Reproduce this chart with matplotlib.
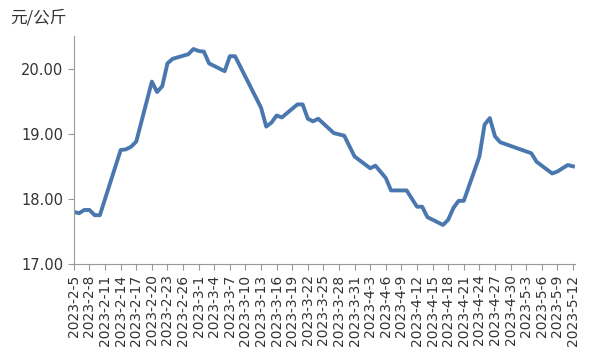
import pandas as pd
import matplotlib.pyplot as plt

plt.rcParams['font.family'] = ['DejaVu Sans', 'Noto Sans CJK SC']

start = pd.Timestamp("2023-02-05")
end = pd.Timestamp("2023-05-12")

dates = ["2023-02-05", "2023-02-06", "2023-02-07", "2023-02-08", "2023-02-09",
         "2023-02-10", "2023-02-14", "2023-02-15", "2023-02-16", "2023-02-17",
         "2023-02-20", "2023-02-21", "2023-02-22", "2023-02-23", "2023-02-24",
         "2023-02-27", "2023-02-28", "2023-03-01", "2023-03-02", "2023-03-03",
         "2023-03-06", "2023-03-07", "2023-03-08", "2023-03-13", "2023-03-14",
         "2023-03-15", "2023-03-16", "2023-03-17", "2023-03-20", "2023-03-21",
         "2023-03-22", "2023-03-23", "2023-03-24", "2023-03-27", "2023-03-29",
         "2023-03-31", "2023-04-03", "2023-04-04", "2023-04-06", "2023-04-07",
         "2023-04-10", "2023-04-12", "2023-04-13", "2023-04-14", "2023-04-17",
         "2023-04-18", "2023-04-19", "2023-04-20", "2023-04-21", "2023-04-24",
         "2023-04-25", "2023-04-26", "2023-04-27", "2023-04-28", "2023-05-04",
         "2023-05-05", "2023-05-08", "2023-05-09", "2023-05-11", "2023-05-12"]
prices = [17.80, 17.78, 17.83, 17.83, 17.75,
          17.75, 18.75, 18.76, 18.80, 18.88,
          19.80, 19.64, 19.73, 20.08, 20.15,
          20.22, 20.30, 20.27, 20.26, 20.08,
          19.96, 20.19, 20.19, 19.40, 19.11,
          19.17, 19.28, 19.25, 19.45, 19.45,
          19.23, 19.19, 19.23, 19.01, 18.97,
          18.65, 18.47, 18.51, 18.32, 18.13,
          18.13, 17.88, 17.88, 17.72, 17.60,
          17.68, 17.86, 17.97, 17.97, 18.65,
          19.14, 19.24, 18.96, 18.87, 18.70,
          18.57, 18.39, 18.42, 18.52, 18.50]

days = [(pd.Timestamp(d) - start).days for d in dates]
all_days = pd.date_range(start, end)
tick_pos = list(range(0, len(all_days), 3))
tick_labels = [f"{all_days[i].year}-{all_days[i].month}-{all_days[i].day}" for i in tick_pos]

fig = plt.figure(figsize=(5.91, 3.53), dpi=100)
ax = fig.add_axes([0.125, 0.252, 0.848, 0.646])
ax.plot(days, prices, color="#4a78ae", linewidth=2.8, solid_joinstyle="round")

ax.set_xlim(0, 96.4)
ax.set_ylim(17, 20.5)
ax.set_yticks([17, 18, 19, 20])
ax.set_yticklabels([f"{v:.2f}" for v in [17, 18, 19, 20]], fontsize=10.5)
ax.set_xticks(tick_pos)
ax.set_xticklabels(tick_labels, rotation=90, fontsize=10)

for s in ["top", "right"]:
    ax.spines[s].set_visible(False)
for s in ["left", "bottom"]:
    ax.spines[s].set_color("#999999")
ax.tick_params(axis="both", color="#999999", length=4, colors="#333333")
ax.tick_params(axis="both", color="#999999")

fig.text(0.017, 0.95, "元/公斤", fontsize=12, family=["Noto Sans CJK SC"], va="center", color="#333333")

fig.savefig("out.png", dpi=100)
